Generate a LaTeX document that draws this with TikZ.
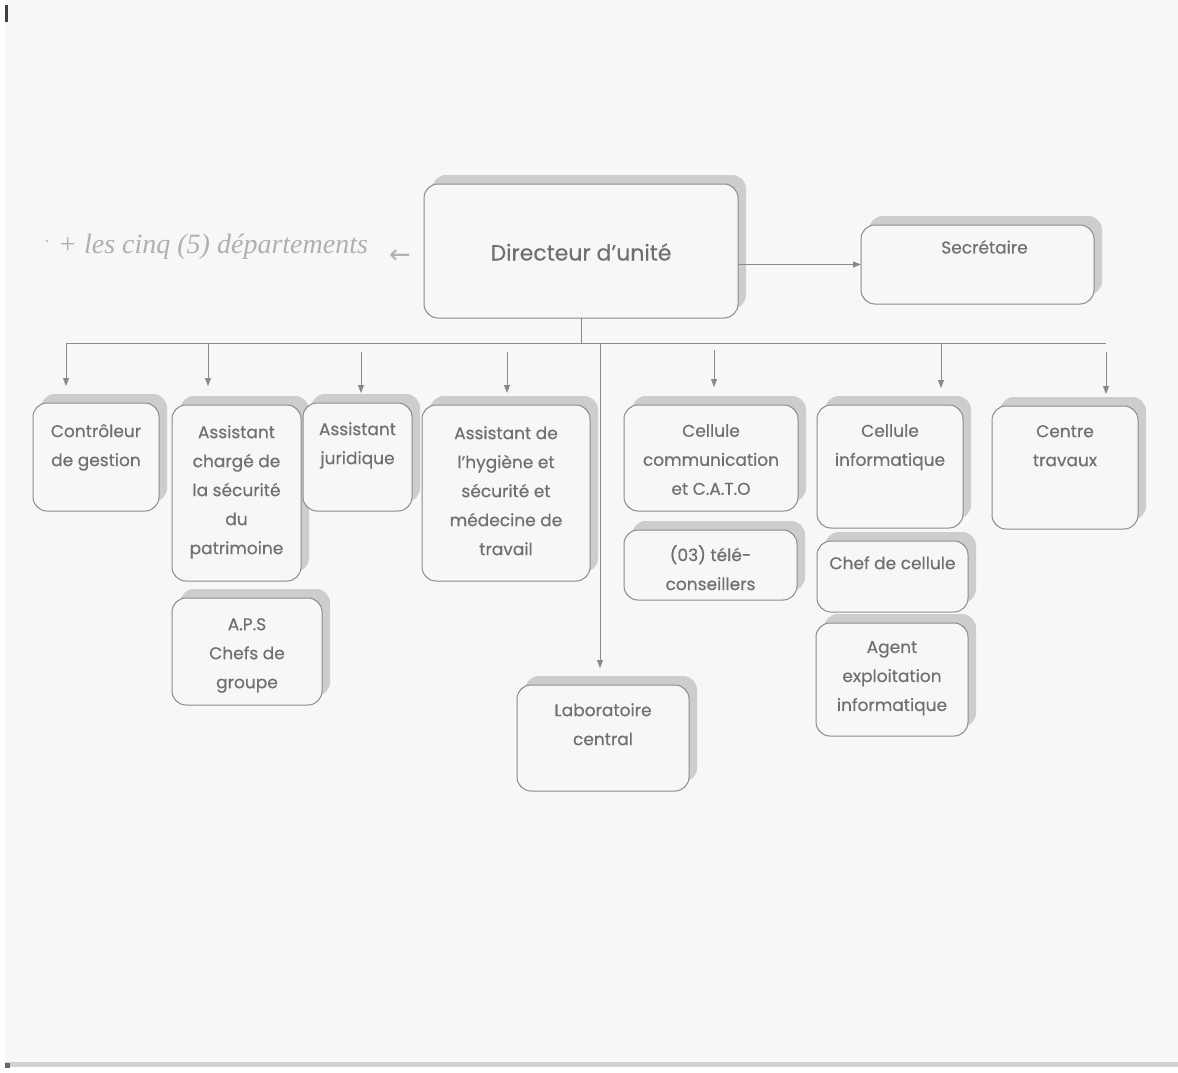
\documentclass[tikz,border=0pt]{standalone}
\usepackage{fontspec}
\setmainfont{Poppins}
\newfontfamily\boxfont{Poppins}[FakeBold=0.5]
\newfontfamily\handfont{Liberation Serif}
\newfontfamily\symfont{DejaVu Sans}
\usetikzlibrary{arrows.meta,shadows}
\definecolor{paper}{HTML}{F7F7F7}
\definecolor{edge}{HTML}{8A8A8A}
\definecolor{shade}{HTML}{CDCDCD}
\definecolor{ink}{HTML}{707070}
\definecolor{pencil}{HTML}{B0B0B0}
\definecolor{scanedge}{HTML}{D2D2D2}
\begin{document}
\begin{tikzpicture}[x=1pt,y=-1pt,
  box/.style={draw=edge, line width=1pt, fill=paper, rounded corners=14pt,
    anchor=north west, inner sep=0pt, outer sep=0pt,
    copy shadow={shadow xshift=8pt, shadow yshift=9pt, fill=shade, draw=none}},
  lbl/.style={text=ink, font=\boxfont\fontsize{17}{29}\selectfont, align=center,
    anchor=north, inner sep=0pt},
  link/.style={draw=edge, line width=0.8pt},
  arr/.style={link, -{Triangle[length=8pt,width=6pt]}}
]
\useasboundingbox (0,0) rectangle (1178,1073);
\fill[white] (0,0) rectangle (1178,1073);
\fill[paper] (5,0) rectangle (1178,1063);
\fill[scanedge] (5,1062) rectangle (1178,1067);
\fill[black!75] (5,5) rectangle (8,22);
\fill[black!60] (5,1063) rectangle (10,1068);

% boxes
\node[box, minimum width=314pt, minimum height=134pt] (dir) at (424,184) {};
\node[box, minimum width=233pt, minimum height=79pt] (sec) at (861,225) {};
\node[box, minimum width=126pt, minimum height=108pt] (ctrl) at (33,403) {};
\node[box, minimum width=129pt, minimum height=176pt] (secu) at (172,405) {};
\node[box, minimum width=150pt, minimum height=107pt] (aps) at (172,598) {};
\node[box, minimum width=109pt, minimum height=108pt] (jur) at (303,403) {};
\node[box, minimum width=168pt, minimum height=176pt] (hyg) at (422,405) {};
\node[box, minimum width=174pt, minimum height=106pt] (com) at (624,405) {};
\node[box, minimum width=173pt, minimum height=70pt] (tele) at (624,530) {};
\node[box, minimum width=172pt, minimum height=106pt] (labo) at (517,685) {};
\node[box, minimum width=146pt, minimum height=123pt] (info) at (817,405) {};
\node[box, minimum width=151pt, minimum height=71pt] (chef) at (817,541) {};
\node[box, minimum width=152pt, minimum height=113pt] (agent) at (816,623) {};
\node[box, minimum width=146pt, minimum height=123pt] (ctr) at (992,406) {};

% texts
\node[lbl, anchor=center, font=\boxfont\fontsize{22}{26}\selectfont] (tdir) at ([yshift=-1pt]dir.center) {Directeur d’unité};
\node[lbl] (tsec) at ([xshift=7pt,yshift=-15pt]sec.north) {Secrétaire};
\node[lbl] (tctrl) at ([yshift=-21pt]ctrl.north) {Contrôleur\\de gestion};
\node[lbl] (tsecu) at ([yshift=-20pt]secu.north) {Assistant\\chargé de\\la sécurité\\du\\patrimoine};
\node[lbl] (taps) at ([yshift=-20pt]aps.north) {A.P.S\\Chefs de\\groupe};
\node[lbl] (tjur) at ([yshift=-19pt]jur.north) {Assistant\\juridique};
\node[lbl] (thyg) at ([yshift=-21pt]hyg.north) {Assistant de\\l’hygiène et\\sécurité et\\médecine de\\travail};
\node[lbl] (tcom) at ([yshift=-19pt]com.north) {Cellule\\communication\\et C.A.T.O};
\node[lbl] (ttele) at ([yshift=-15pt]tele.north) {(03) télé-\\conseillers};
\node[lbl] (tlabo) at ([yshift=-18pt]labo.north) {Laboratoire\\central};
\node[lbl] (tinfo) at ([yshift=-19pt]info.north) {Cellule\\informatique};
\node[lbl] (tchef) at ([yshift=-15pt]chef.north) {Chef de cellule};
\node[lbl] (tagent) at ([yshift=-18pt]agent.north) {Agent\\exploitation\\informatique};
\node[lbl] (tctr) at ([yshift=-19pt]ctr.north) {Centre\\travaux};

% handwritten note
\node[text=pencil, font=\handfont\itshape\fontsize{28}{30}\selectfont, anchor=base west, inner sep=0pt] (note) at (58,253) {+ les cinq (5) départements};
\node[text=pencil, font=\symfont\fontsize{26}{28}\selectfont, inner sep=0pt] (notearrow) at (400,257) {←};
\fill[pencil] (47,241) circle (1.2pt);

% connectors
\coordinate (bus) at (581,343);
\coordinate (busL) at (66,343);
\coordinate (busR) at (1106,343);
\draw[link] (dir.south) -- (bus);
\draw[link] (busL) -- (busR);
\draw[arr] (sec.west -| dir.east) -- (sec.west);

\coordinate (a1) at (66,386);
\coordinate (a2s) at (208,343); \coordinate (a2) at (208,386);
\coordinate (a3s) at (361,352); \coordinate (a3) at (361,393);
\coordinate (a4s) at (507,352); \coordinate (a4) at (507,393);
\coordinate (a5s) at (600,343); \coordinate (a5) at (600,668);
\coordinate (a6s) at (714,350); \coordinate (a6) at (714,387);
\coordinate (a7s) at (941,343); \coordinate (a7) at (941,388);
\coordinate (a8s) at (1106,352); \coordinate (a8) at (1106,394);
\draw[arr] (busL) -- (a1);
\draw[arr] (a2s) -- (a2);
\draw[arr] (a3s) -- (a3);
\draw[arr] (a4s) -- (a4);
\draw[arr] (a5s) -- (a5);
\draw[arr] (a6s) -- (a6);
\draw[arr] (a7s) -- (a7);
\draw[arr] (a8s) -- (a8);
\end{tikzpicture}
\end{document}
